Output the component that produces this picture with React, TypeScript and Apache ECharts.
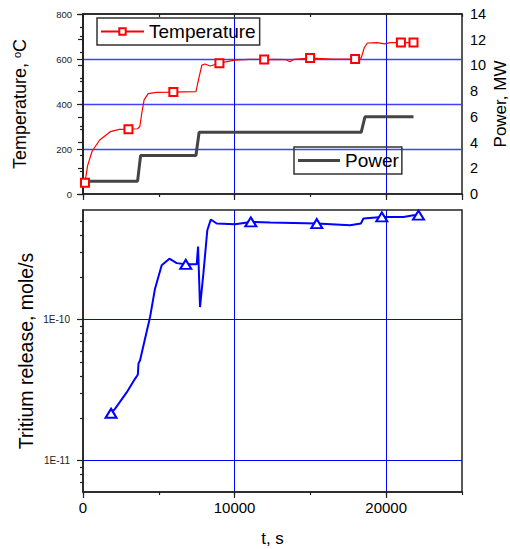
import React, { useEffect, useRef } from 'react';
import * as echarts from 'echarts';

// ---- Data ----
const tempTime = [130, 300, 600, 1100, 1800, 2400, 3000, 3600, 3750, 3880, 4030, 4300, 4850, 5960, 7450, 7560, 7660, 7840, 8050, 8380, 9000, 9500, 10000, 11000, 11950, 12150, 12300, 12500, 13400, 13650, 13900, 14980, 16500, 17950, 18350, 18550, 18760, 19400, 19900, 20260, 20970, 21800];
const tempValue = [50, 125, 190, 240, 277, 287, 288, 290, 300, 360, 418, 446, 452, 453, 455, 490, 521, 573, 578, 569, 581, 588, 595, 598, 598, 591, 597, 598, 597, 588, 598, 604, 600, 600, 604, 650, 671, 673, 667, 673, 673, 673];
const tempMarkerIdx = [0, 6, 13, 20, 24, 31, 33, 40, 41];

const powerTime = [100, 3600, 3800, 7450, 7660, 18350, 18600, 21800];
const powerValue = [1, 1, 3, 3, 4.8, 4.8, 6, 6];

const tritiumTime = [1850, 2110, 2880, 3430, 3580, 3620, 3660, 3760, 4420, 4750, 5190, 5700, 6180, 6780, 7500, 7590, 7720, 7940, 8200, 8430, 8820, 10030, 11070, 12340, 15420, 17620, 18330, 18500, 19710, 21140, 21800, 22130];
const tritiumValue = [2.17e-11, 2.33e-11, 3.05e-11, 3.81e-11, 4.02e-11, 4.1e-11, 4.9e-11, 5.14e-11, 1.04e-10, 1.66e-10, 2.43e-10, 2.71e-10, 2.52e-10, 2.47e-10, 2.47e-10, 3.3e-10, 1.23e-10, 2.12e-10, 4.31e-10, 5.14e-10, 4.81e-10, 4.75e-10, 4.94e-10, 4.89e-10, 4.81e-10, 4.68e-10, 4.81e-10, 5.22e-10, 5.36e-10, 5.36e-10, 5.51e-10, 5.51e-10];
const tritiumMarkerIdx = [0, 13, 22, 24, 28, 31];

const logMinorTicks = [7e-12, 8e-12, 9e-12, 2e-11, 3e-11, 4e-11, 5e-11, 6e-11, 7e-11, 8e-11, 9e-11, 2e-10, 3e-10, 4e-10, 5e-10];

const FONT = '"Liberation Sans", Arial, Helvetica, sans-serif';
const AXIS = '#222';
const GRIDBLUE = '#0000ff';

export default function App() {
  const ref = useRef<HTMLDivElement>(null);
  useEffect(() => {
    if (!ref.current) return;
    const chart = echarts.init(ref.current, undefined, { renderer: 'svg' });

    const axisLine = { show: true, lineStyle: { color: AXIS, width: 1.5 } };
    const tickStyle = { color: AXIS, width: 1.2 };

    const tempData = tempTime.map((t, i) => ({
      value: [t, tempValue[i]],
      symbol: tempMarkerIdx.includes(i) ? 'emptyRect' : 'none',
    }));
    const powerData = powerTime.map((t, i) => [t, powerValue[i]]);
    const tritiumData = tritiumTime.map((t, i) => ({
      value: [t, tritiumValue[i]],
      symbol: tritiumMarkerIdx.includes(i) ? 'emptyTriangle' : 'none',
    }));

    const option: any = {
      animation: false,
      backgroundColor: '#ffffff',
      textStyle: { fontFamily: FONT },
      grid: [
        { left: 83, top: 14, width: 379, height: 180, show: true, borderColor: AXIS, borderWidth: 1.5, containLabel: false, outerBoundsMode: 'none' },
        { left: 83, top: 210, width: 379, height: 282, show: true, borderColor: AXIS, borderWidth: 1.5, containLabel: false, outerBoundsMode: 'none' },
      ],
      legend: [
        {
          data: ['Temperature'], left: 97, top: 18, padding: [4, 4, 4, 3],
          borderColor: '#333', borderWidth: 1.5, itemWidth: 43, itemHeight: 8,
          textStyle: { fontSize: 19, color: '#000', fontFamily: FONT },
        },
        {
          data: [{ name: 'Power', icon: 'rect' }], left: 294, top: 147, padding: [4, 3, 4, 4],
          borderColor: '#333', borderWidth: 1.5, itemWidth: 42, itemHeight: 3,
          textStyle: { fontSize: 19, color: '#000', fontFamily: FONT },
        },
      ],
      xAxis: [
        {
          type: 'value', gridIndex: 0, position: 'bottom', min: 0, max: 25000, interval: 10000,
          axisLine, axisTick: { show: true, length: 6, lineStyle: tickStyle }, axisLabel: { show: false },
          splitLine: { show: true, showMinLine: false, showMaxLine: false, lineStyle: { color: GRIDBLUE, width: 1 } },
        },
        {
          type: 'value', gridIndex: 0, position: 'bottom', min: 0, max: 25000, interval: 5000,
          axisLine: { show: false }, axisTick: { show: true, length: 3, lineStyle: tickStyle }, axisLabel: { show: false }, splitLine: { show: false },
        },
        {
          type: 'value', gridIndex: 0, position: 'top', min: 0, max: 25000, interval: 5000,
          axisLine, axisTick: { show: true, inside: true, length: 3, lineStyle: tickStyle }, axisLabel: { show: false }, splitLine: { show: false },
        },
        {
          type: 'value', gridIndex: 1, position: 'bottom', min: 0, max: 25000, interval: 10000,
          axisLine, axisTick: { show: true, length: 6, lineStyle: tickStyle },
          axisLabel: { show: true, fontSize: 15, margin: 8, color: '#000', showMaxLabel: false, formatter: (v: number) => String(v) },
          splitLine: { show: true, showMinLine: false, showMaxLine: false, lineStyle: { color: GRIDBLUE, width: 1 } },
          name: 't, s', nameLocation: 'middle', nameGap: 38, nameMoveOverlap: false,
          nameTextStyle: { fontSize: 17, color: '#000', fontFamily: FONT },
        },
        {
          type: 'value', gridIndex: 1, position: 'bottom', min: 0, max: 25000, interval: 5000,
          axisLine: { show: false }, axisTick: { show: true, length: 3, lineStyle: tickStyle }, axisLabel: { show: false }, splitLine: { show: false },
        },
      ],
      yAxis: [
        {
          type: 'value', gridIndex: 0, position: 'left', min: 0, max: 800, interval: 200,
          axisLine, axisTick: { show: true, length: 6, lineStyle: tickStyle },
          minorTick: { show: true, splitNumber: 2, length: 3, lineStyle: tickStyle },
          axisLabel: { show: true, fontSize: 9.5, margin: 11, color: '#222' },
          splitLine: { show: true, showMinLine: false, showMaxLine: false, lineStyle: { color: '#4040ff', width: 1.4 } },
          name: '{a|Temperature, }{sup|o}{a|C}', nameLocation: 'middle', nameGap: 54, nameRotate: 90, nameMoveOverlap: false,
          nameTextStyle: {
            color: '#000', fontFamily: FONT, fontSize: 18,
            rich: {
              a: { fontSize: 18, color: '#000', fontFamily: FONT },
              sup: { fontSize: 11, color: '#000', fontFamily: FONT, verticalAlign: 'top' },
            },
          },
        },
        {
          type: 'value', gridIndex: 0, position: 'right', min: 0, max: 14, interval: 2,
          axisLine, axisTick: { show: true, inside: true, length: 5, lineStyle: tickStyle },
          minorTick: { show: true, splitNumber: 2, length: 3, lineStyle: tickStyle },
          axisLabel: { show: true, fontSize: 14.5, margin: 8, color: '#000' },
          splitLine: { show: false },
          name: 'Power, MW', nameLocation: 'middle', nameGap: 30, nameRotate: 90, nameMoveOverlap: false,
          nameTextStyle: { fontSize: 17, lineHeight: 17, color: '#000', fontFamily: FONT },
        },
        {
          type: 'log', gridIndex: 1, position: 'left', min: 6e-12, max: 6e-10,
          axisLine, axisTick: { show: true, length: 6, lineStyle: tickStyle },
          axisLabel: {
            show: true, fontSize: 10, margin: 13, color: '#222', showMinLabel: false, showMaxLabel: false,
            formatter: (v: number) => {
              const l = Math.log10(v);
              const e = Math.round(l);
              return Math.abs(l - e) < 1e-6 ? '1E' + e : '';
            },
          },
          splitLine: { show: true, showMinLine: false, showMaxLine: false, lineStyle: { color: GRIDBLUE, width: 1 } },
          name: 'Tritium release, mole/s', nameLocation: 'middle', nameGap: 47, nameRotate: 90, nameMoveOverlap: false,
          nameTextStyle: { fontSize: 19.5, color: '#000', fontFamily: FONT },
        },
        {
          type: 'log', gridIndex: 1, position: 'left', min: 6e-12, max: 6e-10,
          axisLine: { show: false },
          axisTick: { show: true, length: 3, customValues: logMinorTicks, lineStyle: tickStyle },
          axisLabel: { show: false }, splitLine: { show: false },
        },
      ],
      series: [
        {
          name: 'Power', type: 'line', xAxisIndex: 0, yAxisIndex: 1, data: powerData,
          symbol: 'none', z: 3, color: '#444444',
          lineStyle: { color: '#444444', width: 3 },
        },
        {
          name: 'Temperature', type: 'line', xAxisIndex: 0, yAxisIndex: 0, data: tempData,
          symbol: 'emptyRect', symbolSize: 8, showSymbol: true, z: 4, color: '#ff0000',
          lineStyle: { color: '#ff0000', width: 1.2 },
          itemStyle: { color: '#ff0000', borderColor: '#ff0000', borderWidth: 1 },
        },
        {
          name: 'Tritium', type: 'line', xAxisIndex: 3, yAxisIndex: 2, data: tritiumData,
          symbol: 'emptyTriangle', symbolSize: [11, 9], showSymbol: true, z: 4, color: '#0000ff',
          lineStyle: { color: '#0000ff', width: 2 },
          itemStyle: { color: '#0000ff', borderColor: '#0000ff', borderWidth: 1 },
        },
      ],
    };
    chart.setOption(option);
    return () => chart.dispose();
  }, []);

  return (
    <div
      ref={ref}
      style={{ position: 'fixed', left: 0, top: 0, width: 510, height: 549, background: '#fff' }}
    />
  );
}
